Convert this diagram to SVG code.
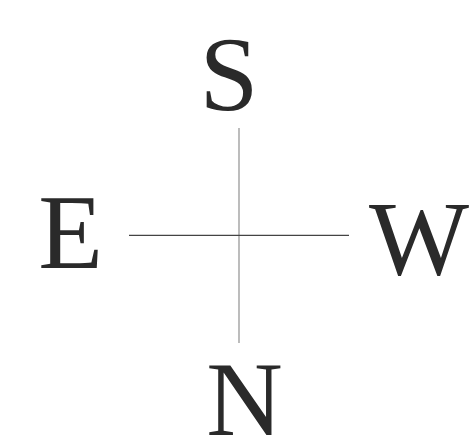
<svg xmlns="http://www.w3.org/2000/svg" width="473" height="436" viewBox="0 0 473 436">
<style>
.lbl{font-family:"Liberation Serif","Times New Roman",serif;font-size:106px;fill:#2a2a2a;text-anchor:middle}
</style>
<rect width="473" height="436" fill="#ffffff"/>
<g id="connectors">
<line x1="239" y1="128" x2="239" y2="343" stroke="#999999" stroke-width="1.3"/>
<line x1="129" y1="235.3" x2="349" y2="235.3" stroke="#444444" stroke-width="1.2"/>
</g>
<g id="node-S"><text class="lbl" x="229" y="110">S</text></g>
<g id="node-E"><text class="lbl" x="70.5" y="268">E</text></g>
<g id="node-W"><text class="lbl" x="419" y="274">W</text></g>
<g id="node-N"><text class="lbl" x="244.5" y="435">N</text></g>
</svg>
